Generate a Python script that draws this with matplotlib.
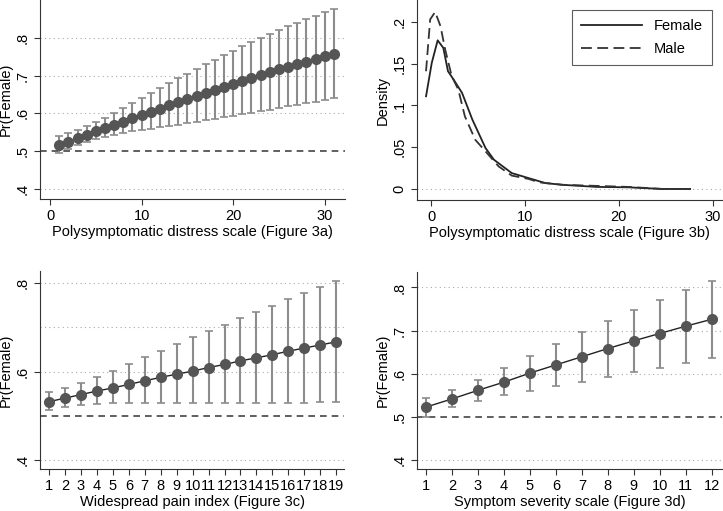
import numpy as np
import matplotlib
matplotlib.use("Agg")
import matplotlib.pyplot as plt

plt.rcParams['font.family'] = ['Liberation Sans', 'DejaVu Sans']

# Figure 3a: predicted Pr(Female) by polysymptomatic distress scale
pds_x = list(range(1, 32))
pds_mean = [0.516, 0.525, 0.534, 0.543, 0.552, 0.560, 0.569, 0.578, 0.587, 0.595,
            0.604, 0.612, 0.621, 0.629, 0.638, 0.646, 0.654, 0.662, 0.670, 0.678,
            0.686, 0.693, 0.701, 0.708, 0.716, 0.723, 0.730, 0.737, 0.744, 0.751, 0.757]
pds_hi = [0.540, 0.547, 0.556, 0.565, 0.576, 0.588, 0.600, 0.613, 0.626, 0.640,
          0.653, 0.666, 0.680, 0.693, 0.705, 0.718, 0.730, 0.742, 0.754, 0.765,
          0.777, 0.788, 0.799, 0.810, 0.820, 0.830, 0.840, 0.849, 0.858, 0.868, 0.876]
pds_lo = [0.495, 0.505, 0.515, 0.524, 0.531, 0.537, 0.542, 0.548, 0.552, 0.556,
          0.559, 0.563, 0.566, 0.570, 0.574, 0.578, 0.582, 0.585, 0.589, 0.593,
          0.597, 0.601, 0.605, 0.609, 0.614, 0.618, 0.622, 0.627, 0.631, 0.636, 0.641]

# Figure 3b: kernel density of the distress scale by sex
fem_x = [-0.54, 0.07, 0.7, 1.3, 1.8, 2.4, 3.3, 4.4, 5.8, 6.7, 8.6, 10.4, 12.2, 14, 17.6, 21, 24.7, 27.6]
fem_y = [0.111, 0.151, 0.178, 0.169, 0.141, 0.131, 0.115, 0.083, 0.049, 0.035, 0.019, 0.013,
         0.007, 0.005, 0.0025, 0.002, 0.0, 0.0]
male_x = [-0.54, -0.1, 0.43, 1.0, 1.5, 2.2, 2.9, 3.6, 4.7, 5.8, 7.2, 8.6, 10.4, 11.5, 14, 21, 24.7, 27.6]
male_y = [0.141, 0.203, 0.212, 0.195, 0.167, 0.135, 0.119, 0.087, 0.059, 0.045, 0.027, 0.016,
          0.012, 0.008, 0.005, 0.0025, 0.0, 0.0]

# Figure 3c: widespread pain index
wpi_x = list(range(1, 20))
wpi_mean = [0.532, 0.540, 0.548, 0.556, 0.563, 0.571, 0.579, 0.587, 0.594, 0.601,
            0.609, 0.616, 0.624, 0.631, 0.638, 0.646, 0.653, 0.660, 0.667]
wpi_hi = [0.553, 0.562, 0.574, 0.587, 0.601, 0.617, 0.632, 0.646, 0.662, 0.677,
          0.692, 0.706, 0.721, 0.735, 0.749, 0.764, 0.777, 0.791, 0.805]
wpi_lo = [0.513, 0.519, 0.524, 0.526, 0.528, 0.529, 0.529, 0.529, 0.529, 0.529,
          0.529, 0.529, 0.529, 0.529, 0.529, 0.529, 0.530, 0.531, 0.532]

# Figure 3d: symptom severity scale
sss_x = list(range(1, 13))
sss_mean = [0.522, 0.541, 0.561, 0.580, 0.601, 0.620, 0.639, 0.658, 0.676, 0.693, 0.710, 0.726]
sss_hi = [0.543, 0.562, 0.585, 0.612, 0.641, 0.668, 0.696, 0.721, 0.747, 0.772, 0.795, 0.816]
sss_lo = [0.500, 0.521, 0.537, 0.550, 0.560, 0.572, 0.581, 0.592, 0.603, 0.613, 0.624, 0.635]

marker_col = '#555555'
bar_col = '#8c8c8c'
fs = 10.5


def style_axes(ax):
    for s in ['top', 'right']:
        ax.spines[s].set_visible(False)
    for s in ['left', 'bottom']:
        ax.spines[s].set_color('#333333')
        ax.spines[s].set_linewidth(0.8)
    ax.tick_params(labelsize=fs, length=4, width=0.8, color='#333333')
    for lab in ax.get_yticklabels():
        lab.set_rotation(90)
        lab.set_va('center')


def pr_panel(ax, x, m, lo, hi, yticks, ylabels, grid, xlabel, xlim, ylim, line=True):
    for g in grid:
        ax.axhline(g, color='#aaaaaa', lw=0.8, ls=(0, (1, 3)), zorder=0)
    ax.axhline(0.5, color='#444444', lw=1.2, ls=(0, (4, 3)), zorder=1)
    m = np.array(m)
    yerr = [m - np.array(lo), np.array(hi) - m]
    ax.errorbar(x, m, yerr=yerr, fmt='none', ecolor=bar_col, elinewidth=1.5,
                capsize=3, capthick=1.2, zorder=2)
    if line:
        ax.plot(x, m, color='#222222', lw=1.0, zorder=3)
    ax.plot(x, m, 'o', color=marker_col, ms=7, zorder=4)
    ax.set_xlim(*xlim)
    ax.set_ylim(*ylim)
    ax.set_yticks(yticks)
    ax.set_yticklabels(ylabels)
    ax.set_ylabel('Pr(Female)', fontsize=fs, labelpad=2)
    ax.set_xlabel(xlabel, fontsize=fs, labelpad=1)
    style_axes(ax)


fig = plt.figure(figsize=(7.23, 5.11), dpi=100)

ax_a = fig.add_axes([0.0553, 0.6106, 0.4217, 0.3894])
pr_panel(ax_a, pds_x, pds_mean, pds_lo, pds_hi,
         [0.4, 0.5, 0.6, 0.7, 0.8], ['.4', '.5', '.6', '.7', '.8'],
         [0.4, 0.6, 0.7, 0.8], 'Polysymptomatic distress scale (Figure 3a)',
         (-1.1, 32.2), (0.373, 0.9))
ax_a.set_xticks([0, 10, 20, 30])
style_axes(ax_a)

ax_b = fig.add_axes([0.5768, 0.6086, 0.4218, 0.3914])
ax_b.axhline(0, color='#aaaaaa', lw=0.8, ls=(0, (1, 3)), zorder=0)
ax_b.plot(fem_x, fem_y, color='#222222', lw=1.3, label='Female')
ax_b.plot(male_x, male_y, color='#333333', lw=1.3, ls=(0, (6, 3)), label='Male')
ax_b.set_xlim(-1.5, 31.0)
ax_b.set_ylim(-0.0132, 0.2263)
ax_b.set_xticks([0, 10, 20, 30])
ax_b.set_yticks([0, 0.05, 0.1, 0.15, 0.2])
ax_b.set_yticklabels(['0', '.05', '.1', '.15', '.2'])
ax_b.set_ylabel('Density', fontsize=fs, labelpad=2)
ax_b.set_xlabel('Polysymptomatic distress scale (Figure 3b)', fontsize=fs, labelpad=1)
style_axes(ax_b)
leg = ax_b.legend(loc='upper right', fontsize=fs, frameon=True, fancybox=False,
                  handlelength=4.2, borderpad=0.6, labelspacing=0.6,
                  bbox_to_anchor=(0.99, 0.985))
leg.get_frame().set_edgecolor('#333333')
leg.get_frame().set_linewidth(0.8)

ax_c = fig.add_axes([0.0553, 0.0822, 0.4207, 0.3875])
pr_panel(ax_c, wpi_x, wpi_mean, wpi_lo, wpi_hi,
         [0.4, 0.6, 0.8], ['.4', '.6', '.8'],
         [0.4, 0.6, 0.7, 0.8], 'Widespread pain index (Figure 3c)',
         (0.43, 19.5), (0.38, 0.827))
ax_c.set_xticks(wpi_x)
style_axes(ax_c)

ax_d = fig.add_axes([0.5768, 0.0822, 0.4218, 0.3855])
pr_panel(ax_d, sss_x, sss_mean, sss_lo, sss_hi,
         [0.4, 0.5, 0.6, 0.7, 0.8], ['.4', '.5', '.6', '.7', '.8'],
         [0.4, 0.6, 0.7, 0.8], 'Symptom severity scale (Figure 3d)',
         (0.65, 12.4), (0.378, 0.836))
ax_d.set_xticks(sss_x)
style_axes(ax_d)

fig.savefig('out.png', dpi=100)
